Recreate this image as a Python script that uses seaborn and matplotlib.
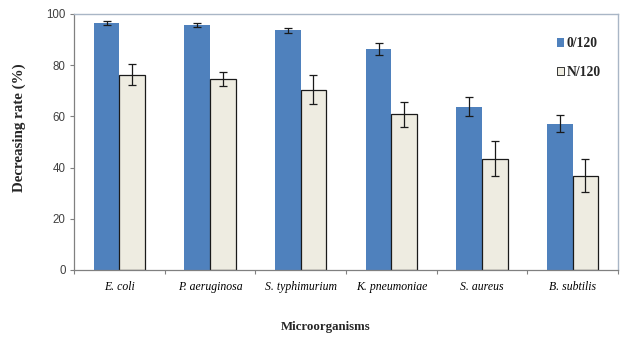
import matplotlib
matplotlib.use("Agg")
import matplotlib.pyplot as plt
import seaborn as sns
import pandas as pd
import numpy as np
from matplotlib.patches import Patch

# Decreasing rate per microorganism for the two treatments
organisms = ["E. coli", "P. aeruginosa", "S. typhimurium", "K. pneumoniae", "S. aureus", "B. subtilis"]
series_names = ["0/120", "N/120"]
rate_0_120 = [96.4, 95.7, 93.7, 86.2, 63.8, 57.2]
err_0_120 = [0.7, 0.6, 1.0, 2.4, 3.7, 3.3]
rate_n_120 = [76.3, 74.5, 70.5, 60.8, 43.4, 36.9]
err_n_120 = [4.2, 2.7, 5.6, 4.9, 6.8, 6.3]
y_ticks = [0, 20, 40, 60, 80, 100]

df = pd.DataFrame({
    "Microorganism": organisms * 2,
    "Treatment": [series_names[0]] * len(organisms) + [series_names[1]] * len(organisms),
    "Rate": rate_0_120 + rate_n_120,
    "Err": err_0_120 + err_n_120,
})

sns.set_theme(style="white")
plt.rcParams["font.family"] = ["Liberation Serif", "DejaVu Serif"]

fig = plt.figure(figsize=(6.21, 3.37), dpi=100)
ax = fig.add_axes([74 / 621, 1 - 270 / 337, 544 / 621, 256 / 337])

palette = {"0/120": "#4F81BD", "N/120": "#EEECE1"}
sns.barplot(data=df, x="Microorganism", y="Rate", hue="Treatment",
            palette=palette, width=0.565, errorbar=None, ax=ax,
            saturation=1, legend=False)

# style bars and add error bars at bar centres
n = len(organisms)
for i, patch in enumerate(ax.patches[:2 * n]):
    if i >= n:
        patch.set_edgecolor("#1a1a1a")
        patch.set_linewidth(0.9)
    else:
        patch.set_edgecolor("none")
    val = df["Rate"].iloc[i]
    err = df["Err"].iloc[i]
    cx = patch.get_x() + patch.get_width() / 2
    ax.errorbar(cx, val, yerr=err, fmt="none", ecolor="#1a1a1a",
                elinewidth=0.9, capsize=3.2, capthick=0.9, zorder=5)

ax.set_ylim(0, 100)
ax.set_xlim(-0.5, n - 0.5)
ax.set_yticks(y_ticks)
ax.set_yticklabels([str(t) for t in y_ticks], family="Liberation Sans",
                   fontsize=8.3, color="#404040")
ax.set_xticks(range(n))
ax.set_xticklabels(organisms, style="italic", fontsize=8.5, color="black")
ax.tick_params(axis="x", length=0, pad=8)
ax.tick_params(axis="y", length=3, width=0.8, color="#808080", direction="out", left=True, pad=3)

# minor ticks between categories on the x axis
ax.set_xticks(np.arange(-0.5, n, 1.0), minor=True)
ax.tick_params(axis="x", which="minor", length=3, width=0.8, color="#808080",
               direction="out", bottom=True)

for side in ["left", "bottom"]:
    ax.spines[side].set_color("#808080")
    ax.spines[side].set_linewidth(0.9)
for side in ["top", "right"]:
    ax.spines[side].set_visible(True)
    ax.spines[side].set_color("#A9B6C6")
    ax.spines[side].set_linewidth(1.0)

ax.set_ylabel("Decreasing rate (%)", fontsize=10.8, fontweight="bold", labelpad=0)
ax.yaxis.set_label_coords(-0.088, 0.555)
ax.set_xlabel("Microorganisms", fontsize=9.3, fontweight="bold")
ax.xaxis.set_label_coords(0.462, -0.2)

handles = [Patch(facecolor="#4F81BD", edgecolor="none"),
           Patch(facecolor="#EEECE1", edgecolor="#333333", linewidth=0.7)]
ax.legend(handles, series_names, loc="upper right", bbox_to_anchor=(0.978, 0.93),
          frameon=False, prop={"family": "Liberation Serif", "weight": "bold", "size": 9.8},
          handlelength=0.55, handleheight=0.55, handletextpad=0.15, labelspacing=1.15,
          borderaxespad=0)

fig.savefig("out.png", dpi=100)
